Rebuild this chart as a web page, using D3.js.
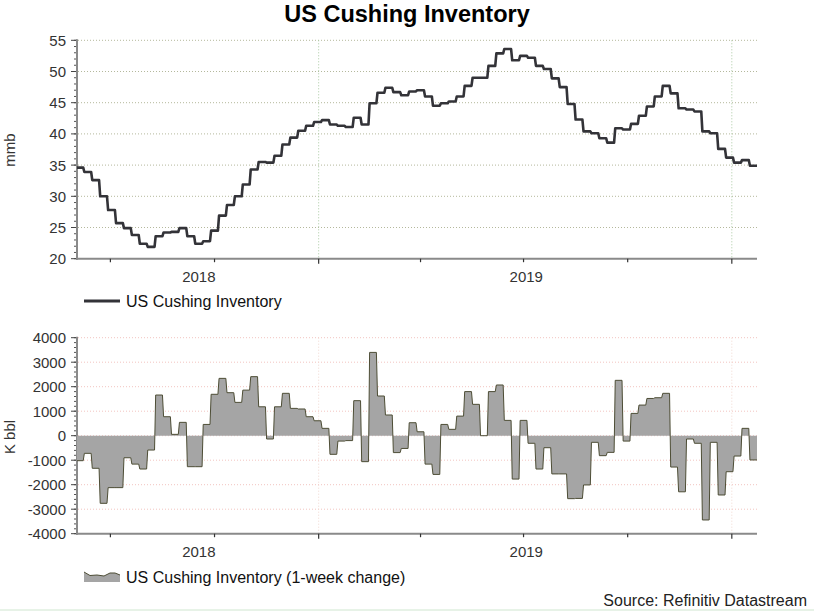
<!DOCTYPE html>
<html>
<head>
<meta charset="utf-8">
<script src="https://cdn.jsdelivr.net/npm/d3@7"></script>
<style>
  html, body { margin: 0; padding: 0; background: #fff; }
  svg { display: block; }
  text { font-family: "Liberation Sans", Arial, sans-serif; fill: #333; }
</style>
</head>
<body>
<svg id="chart" width="814" height="611"></svg>
<script>
// ---------------- DATA ----------------
const title = "US Cushing Inventory";
const firstWeek = "2018-05-31";          // weekly observations (Thursdays)
// Cushing stocks, million barrels (one value per week)
const inventory = [
  34.6, 33.9, 32.6, 30.0, 27.8, 25.7, 24.9, 23.8, 22.4, 21.9,
  23.6, 24.2, 24.3, 24.9, 23.6, 22.4, 22.8, 24.5, 26.9, 28.6,
  30.0, 31.9, 34.3, 35.5, 35.4, 36.5, 38.3, 39.4, 40.5, 41.3,
  41.9, 42.2, 41.5, 41.3, 41.1, 42.6, 41.5, 44.9, 46.6, 47.4,
  46.7, 46.2, 46.8, 47.0, 46.0, 44.5, 44.9, 45.2, 46.0, 47.7,
  49.0, 49.0, 50.9, 52.9, 53.6, 51.8, 52.5, 52.2, 50.9, 50.4,
  48.9, 47.5, 44.8, 42.3, 40.4, 40.1, 39.3, 38.6, 40.9, 40.7,
  41.6, 42.9, 44.4, 46.0, 47.7, 46.5, 44.1, 43.9, 43.6, 40.4,
  40.1, 37.6, 36.2, 35.4, 35.8, 34.9
];
// 1-week change, thousand barrels
const weeklyChange = [
  -1020, -720, -1330, -2760, -2120, -2120, -900, -1160, -1360, -585,
  1660, 775, 55, 545, -1265, -1265, 460, 1690, 2340, 1755,
  1360, 1860, 2410, 1180, -135, 1180, 1730, 1115, 1090, 775,
  610, 300, -760, -220, -200, 1430, -1060, 3400, 1620, 845,
  -690, -520, 530, 160, -1160, -1580, 460, 260, 800, 1800,
  1280, 0, 1800, 2070, 625, -1770, 625, -310, -1360, -490,
  -1560, -1560, -2570, -2560, -2010, -270, -815, -680, 2260, -220,
  910, 1250, 1520, 1550, 1730, -1280, -2290, -135, -310, -3440,
  -270, -2420, -1470, -830, 300, -990
];
const topTicks = [20, 25, 30, 35, 40, 45, 50, 55];
const bottomTicks = [-4000, -3000, -2000, -1000, 0, 1000, 2000, 3000, 4000];
const yearLabels = ["2018", "2019"];
const topUnit = "mmb";
const bottomUnit = "K bbl";
const legendTop = "US Cushing Inventory";
const legendBottom = "US Cushing Inventory (1-week change)";
const sourceText = "Source: Refinitiv Datastream";

// ---------------- LAYOUT ----------------
const svg = d3.select("#chart");
const X0 = 77, X1 = 757;
const topBox = { y0: 40.3, y1: 258.7 };
const botBox = { y0: 337.7, y1: 533.7 };
const DAY = 864e5;

const domainStart = new Date(2018, 5, 1, 12);
const domainEnd = new Date(2020, 0, 23, 6);
const x = d3.scaleTime().domain([domainStart, domainEnd]).range([X0, X1]);

const start = new Date(firstWeek + "T00:00:00");
const dates = inventory.map((_, i) => new Date(start.getTime() + i * 7 * DAY));

// expanded step points (value held for the week, 1-day transition)
function stepPoints(values) {
  const pts = [];
  values.forEach((v, i) => {
    const a = new Date(dates[i].getTime() + DAY);
    const b = i < values.length - 1 ? dates[i + 1] : domainEnd;
    pts.push({ d: a, v }, { d: b, v });
  });
  return pts;
}

const yTop = d3.scaleLinear().domain([20, 55]).range([topBox.y1, topBox.y0]);
const yBot = d3.scaleLinear().domain([-4000, 4000]).range([botBox.y1, botBox.y0]);

// clip paths
const defs = svg.append("defs");
defs.append("clipPath").attr("id", "clipTop").append("rect")
  .attr("x", X0).attr("y", topBox.y0 - 5).attr("width", X1 - X0).attr("height", topBox.y1 - topBox.y0 + 5);
defs.append("clipPath").attr("id", "clipBot").append("rect")
  .attr("x", X0).attr("y", botBox.y0).attr("width", X1 - X0).attr("height", botBox.y1 - botBox.y0);

// title
svg.append("text").attr("x", 407).attr("y", 22).attr("text-anchor", "middle")
  .style("font-size", "23.5px").style("font-weight", "bold").style("fill", "#000").text(title);

const yearBounds = [new Date(2019, 0, 1), new Date(2020, 0, 1)];
const quarterTicks = x.ticks(d3.timeMonth.every(3));

function drawPanel(box, y, ticks, minorStep, hColor, vColor, unit, unitY, labelY) {
  const g = svg.append("g");
  // horizontal grid
  g.selectAll(".hg").data(ticks.filter(t => t !== ticks[0])).join("line")
    .attr("x1", X0 + 1).attr("x2", X1).attr("y1", d => y(d)).attr("y2", d => y(d))
    .attr("stroke", hColor).attr("stroke-width", 1).attr("stroke-dasharray", "1,2");
  // vertical grid at year boundaries
  g.selectAll(".vg").data(yearBounds).join("line")
    .attr("x1", d => x(d)).attr("x2", d => x(d)).attr("y1", box.y0).attr("y2", box.y1)
    .attr("stroke", vColor).attr("stroke-width", 1).attr("stroke-dasharray", "1,2");

  // y axis
  const minor = d3.range(ticks[0], ticks[ticks.length - 1] + minorStep / 2, minorStep);
  g.selectAll(".mt").data(minor).join("line")
    .attr("x1", X0 - 3).attr("x2", X0).attr("y1", d => y(d)).attr("y2", d => y(d))
    .attr("stroke", "#555").attr("stroke-width", 1);
  g.selectAll(".Mt").data(ticks).join("line")
    .attr("x1", X0 - 6).attr("x2", X0).attr("y1", d => y(d)).attr("y2", d => y(d))
    .attr("stroke", "#444").attr("stroke-width", 1);
  g.selectAll(".yl").data(ticks).join("text")
    .attr("x", X0 - 11).attr("y", d => y(d) + 5.5).attr("text-anchor", "end")
    .style("font-size", "15px").text(d => d);
  g.append("line").attr("x1", X0).attr("x2", X0).attr("y1", box.y0 - 1).attr("y2", box.y1 + 1)
    .attr("stroke", "#8a8a8a").attr("stroke-width", 2);

  // x axis
  g.append("line").attr("x1", X0 - 1).attr("x2", X1).attr("y1", box.y1).attr("y2", box.y1)
    .attr("stroke", "#8a8a8a").attr("stroke-width", 2);
  g.selectAll(".xt").data(quarterTicks).join("line")
    .attr("x1", d => x(d)).attr("x2", d => x(d))
    .attr("y1", box.y1).attr("y2", d => box.y1 + (d.getMonth() === 0 ? 5 : 3.5))
    .attr("stroke", "#333").attr("stroke-width", 1.2);
  // year labels centered over visible span
  const spans = [[domainStart, yearBounds[0]], [yearBounds[0], yearBounds[1]]];
  g.selectAll(".xl").data(spans).join("text")
    .attr("x", d => (x(d[0]) + x(d[1])) / 2 + 1).attr("y", labelY)
    .attr("text-anchor", "middle").style("font-size", "15px")
    .text((d, i) => yearLabels[i]);

  // unit label
  svg.append("text").attr("transform", `translate(15,${unitY}) rotate(-90)`)
    .attr("text-anchor", "middle").style("font-size", "15px").text(unit);
  return g;
}

drawPanel(topBox, yTop, topTicks, 1, "#b4b89c", "#a8c8a0", topUnit, 150, 282);
drawPanel(botBox, yBot, bottomTicks, 200, "#f2c4c0", "#f0d8d0", bottomUnit, 437, 557);

// top line
const topPts = stepPoints(inventory);
topPts.unshift({ d: dates[0], v: inventory[0] });
svg.append("path").attr("clip-path", "url(#clipTop)")
  .datum(topPts)
  .attr("d", d3.line().x(p => x(p.d)).y(p => yTop(p.v)))
  .attr("fill", "none").attr("stroke", "#333338").attr("stroke-width", 2.6)
  .attr("stroke-linejoin", "round");

// bottom area
const botPts = stepPoints(weeklyChange);
botPts.unshift({ d: dates[0], v: weeklyChange[0] });
const botG = svg.append("g").attr("clip-path", "url(#clipBot)");
botG.append("path").datum(botPts)
  .attr("d", d3.area().x(p => x(p.d)).y0(yBot(0)).y1(p => yBot(p.v)))
  .attr("fill", "#a5a5a5");
botG.append("path").datum(botPts)
  .attr("d", d3.line().x(p => x(p.d)).y(p => yBot(p.v)))
  .attr("fill", "none").attr("stroke", "#4d4d35").attr("stroke-width", 1);

// legends
svg.append("line").attr("x1", 84).attr("x2", 120).attr("y1", 301).attr("y2", 301)
  .attr("stroke", "#333338").attr("stroke-width", 3);
svg.append("text").attr("x", 126).attr("y", 307).style("font-size", "16px").style("fill", "#111").text(legendTop);

svg.append("path").attr("d", "M84,572 L90,575.5 L97,575 L104,576 L110,573 L115,573 L120,575 L120,582 L84,582 Z")
  .attr("fill", "#a5a5a5");
svg.append("path").attr("d", "M84,572 L90,575.5 L97,575 L104,576 L110,573 L115,573 L120,575")
  .attr("fill", "none").attr("stroke", "#4d4d35").attr("stroke-width", 1);
svg.append("text").attr("x", 126).attr("y", 583).style("font-size", "16px").style("fill", "#111").text(legendBottom);

// source
svg.append("text").attr("x", 807).attr("y", 606).attr("text-anchor", "end")
  .style("font-size", "16px").style("fill", "#222").text(sourceText);

// bottom thin rule
svg.append("line").attr("x1", 0).attr("x2", 814).attr("y1", 610).attr("y2", 610)
  .attr("stroke", "#cfe6cf").attr("stroke-width", 1);
</script>
</body>
</html>
